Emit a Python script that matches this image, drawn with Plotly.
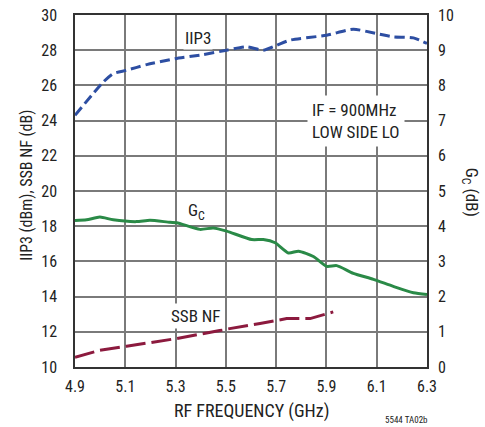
import plotly.graph_objects as go

# IIP3 (dBm), left axis
iip3_freq = [4.9, 5.013, 5.052, 5.105, 5.185, 5.298, 5.41, 5.503, 5.583, 5.649, 5.702, 5.755, 5.901, 6.007, 6.1, 6.166, 6.246, 6.3]
iip3_val = [24.3, 26.2, 26.67, 26.86, 27.18, 27.52, 27.75, 28.0, 28.19, 28.0, 28.28, 28.57, 28.85, 29.19, 28.94, 28.76, 28.7, 28.38]

# Conversion gain Gc (dB), right axis
gc_freq = [4.9, 4.946, 4.999, 5.052, 5.145, 5.198, 5.278, 5.305, 5.397, 5.45, 5.503, 5.603, 5.649, 5.696, 5.749, 5.789, 5.848, 5.901, 5.941, 6.007, 6.087, 6.166, 6.246, 6.3]
gc_val = [4.16, 4.18, 4.26, 4.18, 4.13, 4.17, 4.11, 4.1, 3.91, 3.95, 3.86, 3.62, 3.62, 3.53, 3.24, 3.29, 3.14, 2.86, 2.88, 2.66, 2.49, 2.29, 2.11, 2.06]

# SSB NF (dB), left axis
nf_freq = [4.9, 4.999, 5.105, 5.225, 5.305, 5.397, 5.503, 5.636, 5.742, 5.835, 5.927]
nf_val = [10.55, 10.95, 11.18, 11.43, 11.62, 11.86, 12.15, 12.47, 12.75, 12.75, 13.13]

x_ticks = [4.9, 5.1, 5.3, 5.5, 5.7, 5.9, 6.1, 6.3]
left_ticks = [10, 12, 14, 16, 18, 20, 22, 24, 26, 28, 30]
right_ticks = list(range(0, 11))

FONT = "Liberation Sans Narrow, Roboto Condensed, Arial Narrow, Liberation Sans, sans-serif"
TXT = "#222222"
GRID = "#7a7a7a"

fig = go.Figure()
fig.add_trace(go.Scatter(x=iip3_freq, y=iip3_val, mode="lines",
                         line=dict(color="#2d4ea2", width=3, dash="10px,5px", shape="spline", smoothing=0.6),
                         showlegend=False, hoverinfo="skip"))
fig.add_trace(go.Scatter(x=nf_freq, y=nf_val, mode="lines",
                         line=dict(color="#8c1a3e", width=3, dash="20px,6px"),
                         showlegend=False, hoverinfo="skip"))
fig.add_trace(go.Scatter(x=gc_freq, y=gc_val, mode="lines", yaxis="y2",
                         line=dict(color="#2a8a47", width=3, shape="spline", smoothing=0.6),
                         showlegend=False, hoverinfo="skip"))

fig.update_layout(
    width=485, height=427,
    margin=dict(l=75, r=58, t=15, b=60, autoexpand=False),
    paper_bgcolor="white", plot_bgcolor="white",
    font=dict(family=FONT, size=16, color=TXT),
    xaxis=dict(range=[4.9, 6.3], tickmode="array", tickvals=x_ticks, ticktext=[f"{v:.1f}" for v in x_ticks],
               showgrid=True, gridcolor=GRID, gridwidth=2,
               showline=True, linecolor="#333333", linewidth=1.5, mirror=True,
               ticks="", zeroline=False, tickfont=dict(size=16), ticklabelstandoff=4,
               automargin=False, ticklabeloverflow="allow"),
    yaxis=dict(range=[10, 30], tickmode="array", tickvals=left_ticks, showgrid=True, gridcolor=GRID, gridwidth=2,
               showline=True, linecolor="#333333", linewidth=1.5, mirror=True,
               ticks="", zeroline=False, tickfont=dict(size=16), ticklabelstandoff=13,
               automargin=False, ticklabeloverflow="allow"),
    yaxis2=dict(range=[0, 10], tickmode="array", tickvals=right_ticks, overlaying="y", side="right",
                showgrid=False, zeroline=False, showline=False, ticks="",
                tickfont=dict(size=16), ticklabelstandoff=10, automargin=False,
                ticklabeloverflow="allow"),
)

ann = []
ann.append(dict(x=-0.136, y=0.515, xref="paper", yref="paper", text="IIP3 (dBm), SSB NF (dB)",
                xanchor="center", yanchor="middle",
                showarrow=False, textangle=-90, font=dict(size=16, color=TXT)))
ann.append(dict(x=1.122, y=0.495, xref="paper", yref="paper", text="G<sub>C</sub> (dB)",
                xanchor="center", yanchor="middle",
                showarrow=False, textangle=90, font=dict(size=17, color=TXT)))
ann.append(dict(x=0.5, y=-0.125, xref="paper", yref="paper", text="RF FREQUENCY (GHz)",
                xanchor="center", yanchor="middle",
                showarrow=False, font=dict(size=18, color=TXT)))
ann.append(dict(x=5.389, y=28.69, text="IIP3", showarrow=False, bgcolor="white",
                xanchor="center", yanchor="middle",
                font=dict(size=17, color=TXT), borderpad=1))
ann.append(dict(x=5.385, y=4.43, yref="y2", text="G<sub>C</sub>", showarrow=False,
                xanchor="center", yanchor="middle",
                font=dict(size=17, color=TXT)))
ann.append(dict(x=5.38, y=12.9, text="SSB NF", showarrow=False, bgcolor="white",
                xanchor="center", yanchor="middle",
                font=dict(size=17, color=TXT), borderpad=2))
ann.append(dict(x=6.018, y=24.0, text="IF = 900MHz<br>LOW SIDE LO", showarrow=False, bgcolor="white",
                xanchor="center", yanchor="middle",
                align="left", font=dict(size=17, color=TXT), borderpad=4))
ann.append(dict(x=0.943, y=-0.150, xref="paper", yref="paper", text="5544 TA02b", xanchor="center",
                yanchor="middle",
                showarrow=False, font=dict(size=9, color=TXT)))
fig.update_layout(annotations=ann)

fig.write_html("out.html", config={"displayModeBar": False},
               post_script="document.body.style.margin='0';")
